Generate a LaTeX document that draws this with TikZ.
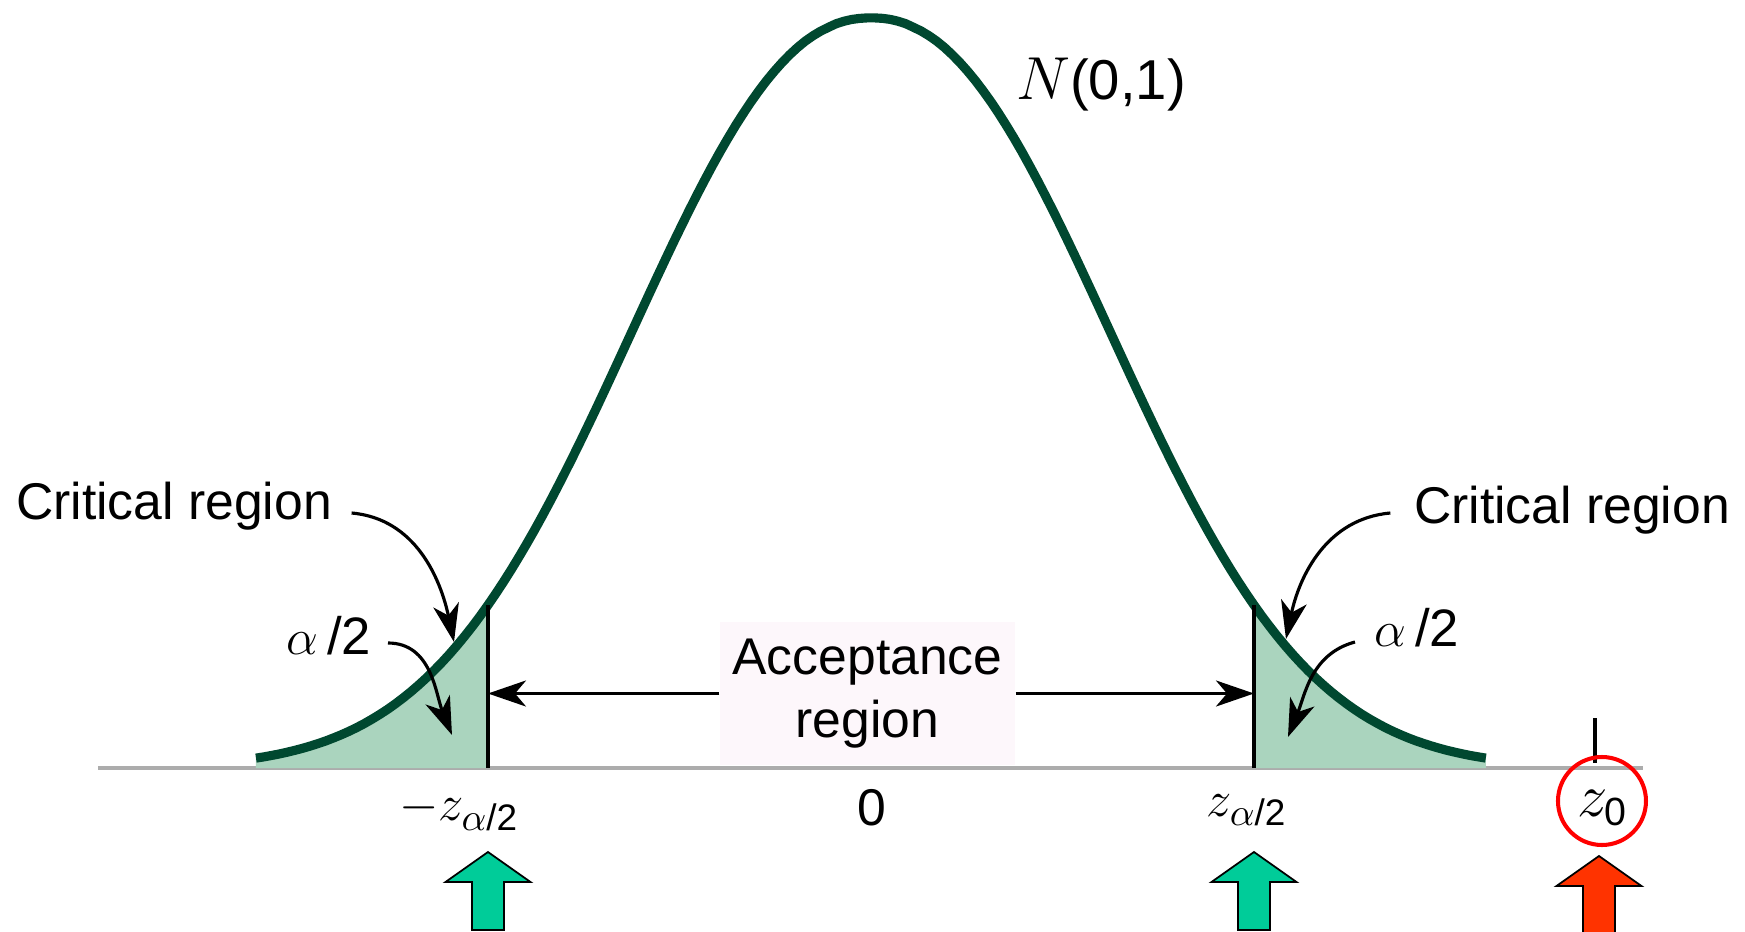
\documentclass[tikz,border=0pt]{standalone}
\usepackage{amsmath}
\usepackage{fontspec}
\setmainfont{Liberation Sans}
\usetikzlibrary{arrows.meta,calc,positioning}

\definecolor{curvegreen}{RGB}{0,72,48}
\definecolor{tailgreen}{RGB}{170,212,190}
\definecolor{axisgray}{RGB}{172,172,172}
\definecolor{accpink}{RGB}{253,247,251}
\definecolor{upgreen}{RGB}{0,204,153}
\definecolor{upred}{RGB}{255,51,0}

\tikzset{
  lbl/.style={font=\fontsize{14.7}{17.9}\selectfont, inner sep=0pt},
  mlbl/.style={font=\fontsize{15}{18}\selectfont, inner sep=0pt},
  pointer/.style={-{Stealth[length=3.8mm,width=2.6mm,inset=1.1mm]}, line width=0.9pt},
  blockup/.style={draw=black, line width=0.5pt, fill=#1},
  pics/blockarrow/.style={code={
    \draw[blockup=#1] (0,0) -- (0.425,-0.30) -- (0.16,-0.30) -- (0.16,-0.78)
      -- (-0.16,-0.78) -- (-0.16,-0.30) -- (-0.425,-0.30) -- cycle;}},
  declare function={dens(\t)=7.5*exp(-pow(abs(\t)/3.16+0.00001,2.2));}
}

\begin{document}
\begin{tikzpicture}
\useasboundingbox (-8.71,-1.63) rectangle (8.74,7.68);

% Axis
\draw[axisgray, line width=0.9pt] (-7.73,0) -- (7.72,0);

% Shaded tails
\fill[tailgreen] (-6.15,0) -- plot[domain=-6.15:-3.83,samples=40] (\x,{dens(\x)}) -- (-3.83,0) -- cycle;
\fill[tailgreen] (3.83,0) -- plot[domain=3.83:6.15,samples=40] (\x,{dens(\x)}) -- (6.15,0) -- cycle;

% Density curve
\draw[curvegreen, line width=2.6pt] plot[domain=-6.15:6.15,samples=160] (\x,{dens(\x)});
\node[font=\fontsize{16}{19}\selectfont, inner sep=0pt] (nlab) at (2.30,6.83) {$N$(0,1)};

% Critical values
\coordinate (cutL) at (-3.83,0);
\coordinate (cutLtop) at (-3.83,{dens(3.83)});
\coordinate (cutR) at (3.83,0);
\coordinate (cutRtop) at (3.83,{dens(3.83)});
\draw[line width=0.9pt] (cutL) -- (cutLtop);
\draw[line width=0.9pt] (cutR) -- (cutRtop);

% Acceptance region
\node[lbl, fill=accpink, minimum width=2.95cm, minimum height=1.43cm, align=center]
  (acc) at (-0.035,0.745) {Acceptance\\region};
\draw[pointer] (acc.west) -- (acc.west -| cutL);
\draw[pointer] (acc.east) -- (acc.east -| cutR);

% Critical region labels
\node[lbl] (critL) at (-6.97,2.62) {Critical region};
\node[lbl] (critR) at (7.01,2.58) {Critical region};
\node[mlbl] (alphaL) at (-5.42,1.32) {$\alpha$\,/2};
\node[mlbl] (alphaR) at (5.46,1.40) {$\alpha$\,/2};
\coordinate (tipCL) at (-4.17,1.26);
\coordinate (tipAL) at (-4.19,0.33);
\coordinate (tipCR) at (4.15,1.29);
\coordinate (tipAR) at (4.17,0.31);
\draw[pointer] ([shift={(1.9mm,-0.7mm)}]critL.east) to[out=-5,in=102] (tipCL);
\draw[pointer] ([shift={(1.6mm,-0.7mm)}]alphaL.east) to[out=0,in=112] (tipAL);
\draw[pointer] ([shift={(-2.3mm,-0.3mm)}]critR.west) to[out=185,in=78] (tipCR);
\draw[pointer] ([shift={(-1.9mm,-1.4mm)}]alphaR.west) to[out=195,in=68] (tipAR);

% Axis labels
\node[mlbl] (zl) at (-4.12,-0.43) {$-z_{\alpha\text{/2}}$};
\node[lbl] (zero) at (0.01,-0.40) {0};
\node[mlbl] (zr) at (3.76,-0.42) {$z_{\alpha\text{/2}}$};

% Observed statistic
\coordinate (ticktop) at (7.24,0.50);
\coordinate (tickbot) at (7.24,0.05);
\draw[line width=0.9pt] (ticktop) -- (tickbot);
\node[font=\fontsize{16}{19}\selectfont, inner sep=0pt] (zobs) at (7.32,-0.40) {$z_{\text{0}}$};
\node[draw=red, line width=1.15pt, circle, minimum size=0.88cm, inner sep=0pt] (ring) at (7.31,-0.33) {};

% Block arrows
\coordinate (upL) at (-3.83,-0.84);
\coordinate (upR) at (3.83,-0.84);
\coordinate (upO) at (7.28,-0.88);
\pic at (upL) {blockarrow=upgreen};
\pic at (upR) {blockarrow=upgreen};
\pic at (upO) {blockarrow=upred};
\end{tikzpicture}
\end{document}
